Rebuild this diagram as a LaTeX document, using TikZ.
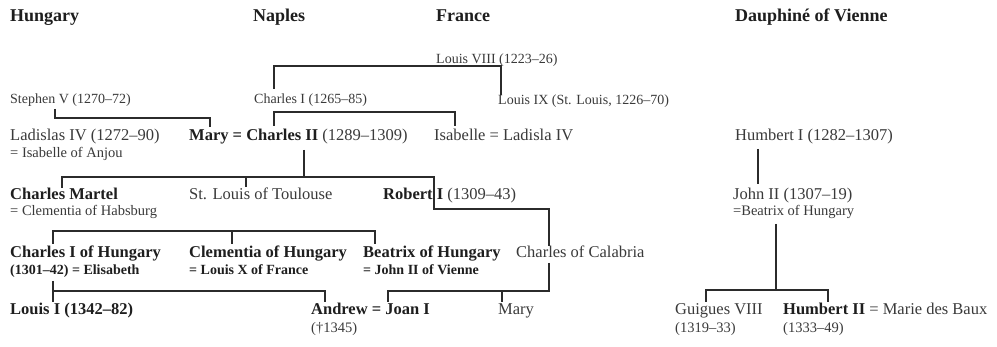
\documentclass[tikz,border=0pt]{standalone}
\usepackage{fontspec}
\setmainfont{Liberation Serif}
\definecolor{txtr}{HTML}{3A3A3A}
\definecolor{txtb}{HTML}{1E1E1E}
\definecolor{linec}{HTML}{2B2B2B}
\begin{document}
\begin{tikzpicture}[x=1pt,y=-1pt,
  every node/.style={inner sep=0pt, anchor=base west},
  hdr/.style={font=\fontsize{18}{20}\selectfont\bfseries, text=txtb},
  sm/.style={font=\fontsize{14}{16}\selectfont, text=txtr},
  rg/.style={font=\fontsize{16.5}{19}\selectfont, text=txtr},
  bd/.style={font=\fontsize{16.5}{19}\selectfont\bfseries, text=txtb},
  sub/.style={font=\fontsize{14.5}{16}\selectfont, text=txtr},
  subb/.style={font=\fontsize{14}{16}\selectfont\bfseries, text=txtb},
  tree/.style={draw=linec, line width=1.5pt}]
\useasboundingbox (0,0) rectangle (997,347);
\fill[white] (0,0) rectangle (997,347);

% headers
\node[hdr] (hHun) at (10,22) {Hungary};
\node[hdr] (hNap) at (253,22) {Naples};
\node[hdr] (hFra) at (436,22) {France};
\node[hdr] (hDau) at (735,22) {Dauphiné of Vienne};

% top generations
\node[sm] (louis8) at (436,64) {Louis VIII (1223–26)};
\node[sm] (stephen) at (10,104) {Stephen V (1270–72)};
\node[sm] (charles1) at (254,104) {Charles I (1265–85)};
\node[sm] (louis9) at (498,105) {Louis IX (St. Louis, 1226–70)};

% row 2
\node[rg] (ladislas) at (10,141) {Ladislas IV (1272–90)};
\node[sub] (ladislasW) at (10,158) {= Isabelle of Anjou};
\node[rg] (charles2) at (189,141) {{\color{txtb}\bfseries Mary = Charles II} (1289–1309)};
\node[rg] (isabelle) at (434,141) {Isabelle = Ladisla IV};
\node[rg] (humbert1) at (735,141) {Humbert I (1282–1307)};

% row 3
\node[bd] (martel) at (10,200) {Charles Martel};
\node[sub] (martelW) at (10,216) {= Clementia of Habsburg};
\node[rg] (toulouse) at (189,200) {St. Louis of Toulouse};
\node[rg] (robert) at (383,200) {{\color{txtb}\bfseries Robert I} (1309–43)};
\node[rg] (john2) at (733,200) {John II (1307–19)};
\node[sub] (john2W) at (733,216) {=Beatrix of Hungary};

% row 4
\node[bd] (charlesH) at (10,258) {Charles I of Hungary};
\node[subb] (charlesHW) at (10,275) {(1301–42) = Elisabeth};
\node[bd] (clementia) at (189,258) {Clementia of Hungary};
\node[subb] (clementiaW) at (189,275) {= Louis X of France};
\node[bd] (beatrix) at (363,258) {Beatrix of Hungary};
\node[subb] (beatrixW) at (363,275) {= John II of Vienne};
\node[rg] (calabria) at (516,258) {Charles of Calabria};

% row 5
\node[bd] (louis1) at (10,315) {Louis I (1342–82)};
\node[bd] (andrew) at (311,315) {Andrew = Joan I};
\node[sub] (andrewD) at (311,333) {(†1345)};
\node[rg] (mary) at (498,315) {Mary};
\node[rg] (guigues) at (675,315) {Guigues VIII};
\node[sub] (guiguesD) at (675,333) {(1319–33)};
\node[rg] (humbert2) at (783,315) {{\color{txtb}\bfseries Humbert II} = Marie des Baux};
\node[sub] (humbert2D) at (783,333) {(1333–49)};

% junction coordinates
\coordinate (l8a) at (274,89);  \coordinate (l8b) at (274,66);
\coordinate (l8c) at (501,66);  \coordinate (l8d) at (501,95);
\coordinate (s5a) at (55,109);  \coordinate (s5b) at (55,118);
\coordinate (s5c) at (210,118); \coordinate (s5d) at (210,127);
\coordinate (c1a) at (274,126); \coordinate (c1b) at (274,112);
\coordinate (c1c) at (455,112); \coordinate (c1d) at (455,126);
\coordinate (c2a) at (304,150); \coordinate (c2b) at (304,177);
\coordinate (c2l) at (62,177);  \coordinate (c2ld) at (62,188);
\coordinate (c2m) at (246,177); \coordinate (c2md) at (246,187);
\coordinate (c2r) at (434,177); \coordinate (c2rd) at (434,209);
\coordinate (rb) at (549,209);  \coordinate (rbd) at (549,246);
\coordinate (cc) at (549,263);  \coordinate (ccd) at (549,291);
\coordinate (jl) at (388,291);  \coordinate (jld) at (388,302);
\coordinate (jm) at (502,291);  \coordinate (jmd) at (502,302);
\coordinate (cma) at (53,244);  \coordinate (cmb) at (53,231);
\coordinate (cmc) at (375,231); \coordinate (cmd) at (375,244);
\coordinate (cmm) at (232,231); \coordinate (cmmd) at (232,244);
\coordinate (cha) at (53,281);  \coordinate (chb) at (53,291);
\coordinate (chd) at (53,302);
\coordinate (chc) at (325,291); \coordinate (che) at (325,302);
\coordinate (h1a) at (758,149); \coordinate (h1b) at (758,184);
\coordinate (j2a) at (776,224); \coordinate (j2b) at (776,290);
\coordinate (j2l) at (706,290); \coordinate (j2ld) at (706,302);
\coordinate (j2r) at (828,290); \coordinate (j2rd) at (828,302);

% connectors
\draw[tree] (l8a) -- (l8b) -- (l8c) -- (l8d);
\draw[tree] (s5a) -- (s5b) -- (s5c) -- (s5d);
\draw[tree] (c1a) -- (c1b) -- (c1c) -- (c1d);
\draw[tree] (c2a) -- (c2b);
\draw[tree] (c2ld) -- (c2l) -- (c2r) -- (c2rd) -- (rb) -- (rbd);
\draw[tree] (c2m) -- (c2md);
\draw[tree] (cc) -- (ccd) -- (jl) -- (jld);
\draw[tree] (jm) -- (jmd);
\draw[tree] (cma) -- (cmb) -- (cmc) -- (cmd);
\draw[tree] (cmm) -- (cmmd);
\draw[tree] (cha) -- (chd);
\draw[tree] (chb) -- (chc) -- (che);
\draw[tree] (h1a) -- (h1b);
\draw[tree] (j2a) -- (j2b);
\draw[tree] (j2ld) -- (j2l) -- (j2r) -- (j2rd);
\end{tikzpicture}
\end{document}
